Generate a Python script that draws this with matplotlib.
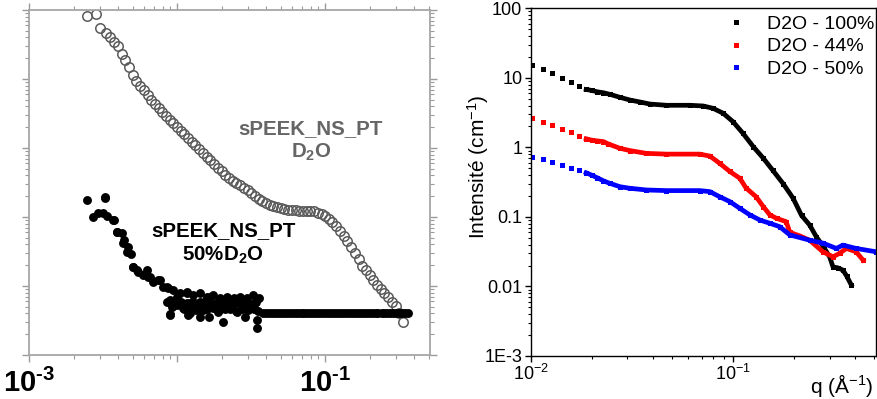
import numpy as np
import matplotlib.pyplot as plt
from matplotlib.ticker import FixedLocator, LogLocator, NullFormatter, FuncFormatter

plt.rcParams['font.family'] = ['Liberation Sans', 'DejaVu Sans']
plt.rcParams['mathtext.fontset'] = 'custom'
plt.rcParams['mathtext.rm'] = 'Liberation Sans'
plt.rcParams['mathtext.it'] = 'Liberation Sans:italic'
plt.rcParams['mathtext.bf'] = 'Liberation Sans:bold'

# ------------- painel esquerdo (unidades arbitrárias) -------------
q_d2o = [0.00248, 0.00282, 0.00302, 0.00331, 0.00353, 0.00372,
         0.00398, 0.00422, 0.00447, 0.00473, 0.00501, 0.00531, 0.00562, 0.00596, 0.00631, 0.00668,
         0.00708, 0.00750, 0.00794, 0.00841, 0.00891, 0.00944, 0.0100, 0.0106, 0.0112, 0.0119,
         0.0126, 0.0133, 0.0141, 0.0150, 0.0158, 0.0168, 0.0178, 0.0188, 0.0200, 0.0211,
         0.0224, 0.0237, 0.0251, 0.0266, 0.0282, 0.0299, 0.0316, 0.0335, 0.0355, 0.0376,
         0.0398, 0.0422, 0.0447, 0.0473, 0.0501, 0.0531, 0.0562, 0.0596, 0.0631, 0.0668,
         0.0708, 0.0750, 0.0794, 0.0841, 0.0891, 0.0944, 0.100, 0.106, 0.112, 0.119,
         0.126, 0.133, 0.141, 0.150, 0.158, 0.168, 0.178, 0.188, 0.200, 0.211,
         0.224, 0.237, 0.251, 0.266, 0.282, 0.299, 0.316, 0.335]
i_d2o = [82.8, 87.5, 54.2, 45.9, 41.1, 34.8,
         29.9, 22.9, 18.6, 14.8, 11.4, 9.3, 7.9, 6.85, 5.78, 5.01,
         4.37, 3.79, 3.29, 2.92, 2.58, 2.28, 2.02, 1.79, 1.58, 1.39,
         1.23, 1.09, 0.962, 0.851, 0.748, 0.662, 0.586, 0.518, 0.458, 0.406,
         0.367, 0.337, 0.310, 0.286, 0.264, 0.243, 0.224, 0.204, 0.185, 0.171,
         0.160, 0.150, 0.144, 0.138, 0.133, 0.129, 0.127, 0.126, 0.125, 0.124,
         0.124, 0.124, 0.123, 0.121, 0.116, 0.110, 0.102, 0.0933, 0.0836, 0.0741,
         0.0631, 0.0537, 0.0450, 0.0366, 0.0299, 0.0243, 0.0198, 0.0169, 0.0143, 0.0121,
         0.0103, 0.00891, 0.00782, 0.00686, 0.00593, 0.00505, 0.00407, 0.00302]

q_50 = [0.00248, 0.00272, 0.00294, 0.00326, 0.00335,
        0.00372, 0.00391, 0.00423, 0.00439, 0.00469,
        0.00486, 0.00507, 0.00548, 0.00592, 0.00640,
        0.00692, 0.00748, 0.00809, 0.00874, 0.00945,
        0.01047, 0.01162, 0.01289, 0.01429, 0.01586,
        0.01758, 0.01953, 0.02166, 0.02403, 0.02666,
        0.02956, 0.03279, 0.03545]
i_50 = [0.176, 0.101, 0.113, 0.193, 0.103,
        0.0905, 0.0613, 0.058, 0.0464, 0.0372,
        0.0291, 0.0191, 0.0161, 0.0144, 0.0134,
        0.0116, 0.0122, 0.00978, 0.00925, 0.00875,
        0.00783, 0.00827, 0.00741, 0.00783, 0.0070,
        0.00741, 0.00662, 0.0070, 0.00662, 0.0070,
        0.00662, 0.00741, 0.00662]

q_50_extra = [0.00327, 0.00316, 0.00370, 0.00394, 0.00432, 0.00459, 0.00505, 0.00537,
              0.00627, 0.00657, 0.00768, 0.00855, 0.0100, 0.00897, 0.0117, 0.0123,
              0.00897, 0.0119, 0.0167, 0.0143]
i_50_extra = [0.188, 0.114, 0.0905, 0.0607, 0.042, 0.0311, 0.0188, 0.0171,
              0.0171, 0.0135, 0.0122, 0.00968, 0.00693, 0.00586, 0.00792, 0.00567,
              0.0038, 0.0038, 0.00693, 0.00356]

# zona ruidosa
q_50_ruido = [0.00851, 0.00897, 0.00995, 0.01104, 0.01224,
              0.01358, 0.01429, 0.01506, 0.01629, 0.01806,
              0.01902, 0.02056, 0.02280, 0.02403, 0.02530,
              0.02735, 0.02879, 0.03112, 0.03365, 0.03455,
              0.03455,
              0.0089, 0.0098, 0.0107, 0.0117, 0.0128, 0.0140, 0.0153, 0.0167,
              0.0183, 0.0200, 0.0219, 0.0240, 0.0262, 0.0287, 0.0314, 0.0343,
              0.0093, 0.0112, 0.0122, 0.0134, 0.0146, 0.0160, 0.0175, 0.0191,
              0.0209, 0.0229, 0.0251, 0.0274, 0.0300, 0.0328, 0.0350]
i_50_ruido = [0.00593, 0.00393, 0.00531, 0.00475, 0.00402,
              0.00501, 0.00593, 0.00449, 0.00359, 0.00531,
              0.00425, 0.00304, 0.00501, 0.00593, 0.00425,
              0.00531, 0.00359, 0.00475, 0.00561, 0.00243,
              0.00322,
              0.0062, 0.0060, 0.0058, 0.0057, 0.0059, 0.0056, 0.0058, 0.0055,
              0.0057, 0.0056, 0.0058, 0.0055, 0.0057, 0.0056, 0.0055, 0.0058,
              0.0050, 0.0046, 0.0048, 0.0045, 0.0047, 0.0046, 0.0048, 0.0045,
              0.0047, 0.0046, 0.0044, 0.0047, 0.0045, 0.0047, 0.0044]

# patamar final
q_50_fim = [0.0380, 0.0398, 0.0417, 0.0437, 0.0457, 0.0479, 0.0501, 0.0525, 0.0550, 0.0575,
            0.0603, 0.0631, 0.0661, 0.0692, 0.0724, 0.0759, 0.0794, 0.0832, 0.0871, 0.0912,
            0.0955, 0.100, 0.105, 0.110, 0.115, 0.120, 0.126, 0.132, 0.138, 0.145,
            0.151, 0.158, 0.166, 0.174, 0.182, 0.191, 0.200, 0.209, 0.219, 0.229,
            0.240, 0.251, 0.263, 0.275, 0.288, 0.302, 0.316, 0.331, 0.347, 0.363]
i_50_fim = [0.0041, 0.0040, 0.0040, 0.0041, 0.0040, 0.0040, 0.0040, 0.0040, 0.0040, 0.0040,
            0.0040, 0.0040, 0.0040, 0.0040, 0.0040, 0.0040, 0.0040, 0.0040, 0.0040, 0.0040,
            0.0040, 0.0040, 0.0040, 0.0040, 0.0040, 0.0040, 0.0040, 0.0040, 0.0040, 0.0040,
            0.0040, 0.0040, 0.0040, 0.0040, 0.0040, 0.0040, 0.0040, 0.0040, 0.0040, 0.0040,
            0.0040, 0.0040, 0.0040, 0.0040, 0.0040, 0.0040, 0.0040, 0.0040, 0.0040, 0.0040]

# ------------- painel direito -------------
q_100 = [0.0102, 0.0115, 0.0128, 0.0143, 0.0158, 0.0173, 0.0188,
         0.0200, 0.0213, 0.0229, 0.0246, 0.0276, 0.0309, 0.0346, 0.0388,
         0.0469, 0.0611, 0.0711, 0.0796, 0.0893, 0.100, 0.112, 0.126, 0.141, 0.157,
         0.177, 0.198, 0.218, 0.239, 0.258, 0.280, 0.300, 0.312, 0.330, 0.349,
         0.365, 0.384]
i_100 = [15.3, 13.2, 11.6, 10.0, 8.8, 7.7, 6.8,
         6.6, 6.3, 6.1, 5.8, 5.25, 4.8, 4.5, 4.2,
         4.03, 4.03, 3.94, 3.65, 3.1, 2.34, 1.59, 1.02, 0.70, 0.47,
         0.30, 0.186, 0.105, 0.0766, 0.0518, 0.037, 0.0267, 0.0191, 0.0185, 0.0172,
         0.0140, 0.0105]

q_44 = [0.0102, 0.0115, 0.0128, 0.0143, 0.0158, 0.0173, 0.0188,
        0.0200, 0.0213, 0.0229, 0.0242, 0.0276, 0.0309, 0.0373, 0.0469,
        0.0685, 0.0768, 0.0859, 0.0964, 0.108, 0.116, 0.130, 0.141, 0.152, 0.164,
        0.183, 0.191, 0.213, 0.239, 0.278, 0.312, 0.336, 0.363, 0.406, 0.439]
i_44 = [2.61, 2.33, 2.07, 1.83, 1.66, 1.47, 1.33,
        1.27, 1.24, 1.21, 1.12, 0.97, 0.90, 0.82, 0.80,
        0.80, 0.75, 0.59, 0.45, 0.36, 0.26, 0.195, 0.141, 0.107, 0.0955,
        0.0855, 0.060, 0.0535, 0.0463, 0.0315, 0.0267, 0.0299, 0.0352, 0.0315, 0.0239]

q_50b = [0.0102, 0.0115, 0.0128, 0.0143, 0.0158, 0.0173, 0.0188,
         0.0200, 0.0213, 0.0229, 0.0246, 0.0276, 0.0309, 0.0373, 0.0469,
         0.0685, 0.0768, 0.0859, 0.0964, 0.108, 0.121, 0.136, 0.152, 0.170, 0.191,
         0.239, 0.278, 0.324, 0.349, 0.406, 0.510]
i_50b = [0.718, 0.671, 0.608, 0.551, 0.509, 0.471, 0.431,
         0.399, 0.366, 0.33, 0.304, 0.272, 0.258, 0.244, 0.239,
         0.239, 0.231, 0.195, 0.166, 0.133, 0.107, 0.090, 0.081, 0.0724, 0.055,
         0.0463, 0.042, 0.0352, 0.0393, 0.0352, 0.0315]

series = [(q_100, i_100, 'black', 'D2O - 100%'),
          (q_44, i_44, 'red', 'D2O - 44%'),
          (q_50b, i_50b, 'blue', 'D2O - 50%')]
n_esparso = 6   # primeiros pontos isolados, depois a curva fica densa

fig = plt.figure(figsize=(8.77, 3.99), dpi=100)

# ------------- painel esquerdo -------------
ax1 = fig.add_axes([0.0331, 0.1103, 0.4572, 0.8647])
ax1.set_xscale('log')
ax1.set_yscale('log')
ax1.plot(q_d2o, i_d2o, 'o', ms=6.8, mfc='none', mec='#5a5a5a', mew=1.1)
q_preto = q_50 + q_50_extra + q_50_ruido + q_50_fim
i_preto = i_50 + i_50_extra + i_50_ruido + i_50_fim
ax1.plot(q_preto, i_preto, 'o', ms=6.4, color='black', mew=0)
ax1.set_xlim(1e-3, 0.51)
ax1.set_ylim(1e-3, 1e2)

for s in ax1.spines.values():
    s.set_color('#a6a6a6')
    s.set_linewidth(1.3)

rotulos = {1e-3: '$\\mathbf{10^{\u20103}}$', 1e-1: '$\\mathbf{10^{\u20101}}$'}
ax1.xaxis.set_major_locator(FixedLocator([1e-3, 1e-2, 1e-1]))
ax1.xaxis.set_major_formatter(FuncFormatter(lambda v, p: rotulos.get(round(v, 6), '')))
ax1.xaxis.set_minor_locator(LogLocator(base=10, subs=np.arange(2, 10), numticks=20))
ax1.xaxis.set_minor_formatter(NullFormatter())
ax1.yaxis.set_major_locator(LogLocator(base=10, numticks=20))
ax1.yaxis.set_minor_locator(LogLocator(base=10, subs=np.arange(2, 10), numticks=20))
ax1.yaxis.set_major_formatter(NullFormatter())
ax1.yaxis.set_minor_formatter(NullFormatter())
ax1.tick_params(which='both', direction='out', top=True, right=True, color='#9a9a9a',
                labelleft=False, labeltop=False, labelright=False)
ax1.tick_params(which='major', length=5, width=1.0, labelsize=21, pad=5)
ax1.tick_params(which='minor', length=3, width=0.8)

ax1.text(0.703, 0.62, 'sPEEK_NS_PT\nD$_{\\mathbf{2}}$O', transform=ax1.transAxes,
         ha='center', va='center', fontsize=14.8, fontweight='bold', color='#666666',
         linespacing=1.25)
ax1.text(0.484, 0.323, 'sPEEK_NS_PT\n50%D$_{\\mathbf{2}}$O', transform=ax1.transAxes,
         ha='center', va='center', fontsize=14.8, fontweight='bold', color='black',
         linespacing=1.25)

# ------------- painel direito -------------
ax2 = fig.add_axes([0.6051, 0.1078, 0.3940, 0.8714])
ax2.set_xscale('log')
ax2.set_yscale('log')
for q, i, cor, nome in series:
    ax2.plot(q, i, 's', ms=3.6, mew=0, color=cor, label=nome)
    ax2.plot(q[n_esparso:], i[n_esparso:], '-', lw=3.4, color=cor)
ax2.set_xlim(0.01, 0.51)
ax2.set_ylim(1e-3, 100)

ylab = {1e-3: '1E-3', 1e-2: '0.01', 1e-1: '0.1', 1.0: '1', 10.0: '10', 100.0: '100'}
ax2.yaxis.set_major_locator(FixedLocator(list(ylab.keys())))
ax2.yaxis.set_major_formatter(FuncFormatter(lambda v, p: ylab.get(round(v, 6), '')))
ax2.yaxis.set_minor_locator(LogLocator(base=10, subs=np.arange(2, 10), numticks=20))
ax2.yaxis.set_minor_formatter(NullFormatter())
xlab = {1e-2: '$10^{-2}$', 1e-1: '$10^{-1}$'}
ax2.xaxis.set_major_locator(FixedLocator([0.01, 0.1]))
ax2.xaxis.set_major_formatter(FuncFormatter(lambda v, p: xlab.get(round(v, 6), '')))
ax2.xaxis.set_minor_locator(LogLocator(base=10, subs=np.arange(2, 10), numticks=20))
ax2.xaxis.set_minor_formatter(NullFormatter())
ax2.tick_params(which='both', direction='out', top=False, right=False, color='black')
ax2.tick_params(which='major', length=4, width=1.0, labelsize=13, pad=2)
ax2.tick_params(which='minor', length=2.5, width=0.8)
for s in ax2.spines.values():
    s.set_linewidth(1.0)

ax2.set_ylabel('Intensité (cm$^{-1}$)', fontsize=15)
ax2.yaxis.set_label_coords(-0.115, 0.545)
ax2.text(0.991, -0.045, 'q (Å$^{-1}$)', transform=ax2.transAxes,
         ha='right', va='top', fontsize=15)

ax2.legend(loc='upper right', bbox_to_anchor=(1.0, 0.986), frameon=False, fontsize=14,
           numpoints=1, handlelength=0.8, handletextpad=1.2, labelspacing=0.26,
           borderaxespad=0.0, borderpad=0.1)

fig.savefig('out.png', dpi=100)
